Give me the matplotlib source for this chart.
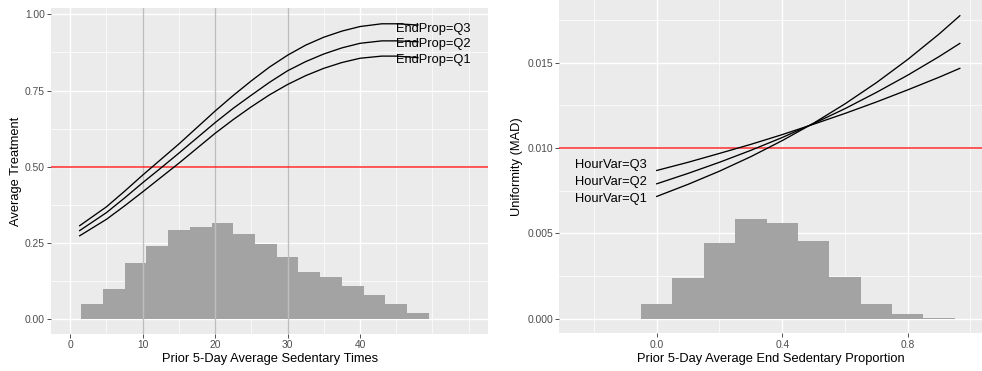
import matplotlib
matplotlib.use("Agg")
import matplotlib.pyplot as plt
import numpy as np

plt.rcParams["font.family"] = ["Liberation Sans", "DejaVu Sans"]

# left panel: histogram of prior sedentary times + fitted curves
sed_edges = [1.5, 4.5, 7.5, 10.5, 13.5, 16.5, 19.5, 22.5, 25.5, 28.5,
             31.5, 34.5, 37.5, 40.5, 43.5, 46.5, 49.5]
sed_hist = [0.050, 0.101, 0.184, 0.239, 0.294, 0.302, 0.315, 0.279,
            0.246, 0.203, 0.154, 0.140, 0.110, 0.079, 0.050, 0.022]
sed_x = [1.3, 5, 7.5, 10, 12.5, 15, 17.5, 20, 22.5, 25, 27.5, 30,
         32.5, 35, 37.5, 40, 43, 45, 48]
end_q3 = [0.307, 0.369, 0.420, 0.473, 0.524, 0.575, 0.629, 0.683, 0.734, 0.782,
          0.827, 0.866, 0.899, 0.925, 0.945, 0.960, 0.969, 0.969, 0.965]
end_q2 = [0.291, 0.350, 0.398, 0.448, 0.496, 0.545, 0.595, 0.645, 0.692, 0.735,
          0.777, 0.815, 0.845, 0.870, 0.890, 0.905, 0.913, 0.913, 0.910]
end_q1 = [0.274, 0.328, 0.372, 0.418, 0.465, 0.512, 0.561, 0.610, 0.655, 0.697,
          0.736, 0.770, 0.799, 0.823, 0.842, 0.856, 0.863, 0.863, 0.858]
end_labels = ["EndProp=Q3", "EndProp=Q2", "EndProp=Q1"]
end_label_y = [0.952, 0.902, 0.851]

# right panel: histogram of end sedentary proportion + fitted curves
prop_edges = [-0.05, 0.05, 0.15, 0.25, 0.35, 0.45, 0.55, 0.65, 0.75, 0.85, 0.95]
prop_hist = [0.00088, 0.00240, 0.00447, 0.00584, 0.00561, 0.00455,
             0.00244, 0.00090, 0.00029, 0.00006]
prop_x = [0.0, 0.1, 0.2, 0.3, 0.4, 0.5, 0.6, 0.7, 0.8, 0.9, 0.966]
hour_q3 = [0.00869, 0.00917, 0.00969, 0.01022, 0.01079, 0.01140,
           0.01203, 0.01270, 0.01341, 0.01415, 0.01467]
hour_q2 = [0.00791, 0.00852, 0.00917, 0.00987, 0.01062, 0.01144,
           0.01231, 0.01326, 0.01427, 0.01536, 0.01613]
hour_q1 = [0.00717, 0.00788, 0.00865, 0.00950, 0.01044, 0.01146,
           0.01259, 0.01383, 0.01519, 0.01668, 0.01775]
hour_labels = ["HourVar=Q3", "HourVar=Q2", "HourVar=Q1"]
hour_label_y = [0.0090, 0.0080, 0.0070]

BG = "#EBEBEB"
BAR = "#A3A3A3"
TXT = 9.3
TICK = 7.4


def style(ax):
    ax.set_facecolor(BG)
    for s in ax.spines.values():
        s.set_visible(False)
    ax.grid(True, which="major", color="white", lw=1.0)
    ax.grid(True, which="minor", color="white", lw=0.5)
    ax.set_axisbelow(True)
    ax.tick_params(which="major", length=3, width=0.6, color="#333333",
                   labelcolor="#4D4D4D", labelsize=TICK, pad=1.5)
    ax.tick_params(which="minor", length=0)


fig = plt.figure(figsize=(9.82, 3.71), dpi=100)

# ---- left
ax1 = fig.add_axes([0.0519, 0.0997, 0.4453, 0.8787])
style(ax1)
ax1.bar(sed_edges[:-1], sed_hist, width=np.diff(sed_edges), align="edge",
        color=BAR, lw=0, zorder=2)
for v in [10, 20, 30]:
    ax1.axvline(v, color="#BEBEBE", lw=1.0, zorder=3)
ax1.axhline(0.5, color="#FF2A2A", lw=1.1, zorder=3)
for ys in [end_q3, end_q2, end_q1]:
    ax1.plot(sed_x, ys, color="black", lw=0.95, zorder=4)
for lab, y in zip(end_labels, end_label_y):
    ax1.text(44.9, y, lab, ha="left", va="center", fontsize=TXT, zorder=5)
ax1.set_xlim(-2.66, 57.7)
ax1.set_ylim(-0.048, 1.0207)
ax1.set_xticks([0, 10, 20, 30, 40])
ax1.set_xticks([5, 15, 25, 35, 45, 50, 55], minor=True)
ax1.set_yticks([0, 0.25, 0.5, 0.75, 1.0])
ax1.set_yticklabels(["0.00", "0.25", "0.50", "0.75", "1.00"])
ax1.set_yticks([0.125, 0.375, 0.625, 0.875], minor=True)
ax1.set_xlabel("Prior 5-Day Average Sedentary Times", fontsize=TXT, labelpad=2)
ax1.set_ylabel("Average Treatment", fontsize=TXT, labelpad=2)

# ---- right
ax2 = fig.add_axes([0.5696, 0.1011, 0.4305, 0.899])
style(ax2)
ax2.bar(prop_edges[:-1], prop_hist, width=np.diff(prop_edges), align="edge",
        color=BAR, lw=0, zorder=2)
ax2.axhline(0.010, color="#FF2A2A", lw=1.1, zorder=3)
for ys in [hour_q3, hour_q2, hour_q1]:
    ax2.plot(prop_x, ys, color="black", lw=0.95, zorder=4)
for lab, y in zip(hour_labels, hour_label_y):
    ax2.text(-0.032, y, lab, ha="right", va="center", fontsize=TXT, zorder=5)
ax2.set_xlim(-0.3104, 1.037)
ax2.set_ylim(-0.000855, 0.018674)
ax2.set_xticks([0.0, 0.4, 0.8])
ax2.set_xticklabels(["0.0", "0.4", "0.8"])
ax2.set_xticks([-0.2, 0.2, 0.6, 1.0], minor=True)
ax2.set_yticks([0, 0.005, 0.010, 0.015])
ax2.set_yticklabels(["0.000", "0.005", "0.010", "0.015"])
ax2.set_yticks([0.0025, 0.0075, 0.0125, 0.0175], minor=True)
ax2.set_xlabel("Prior 5-Day Average End Sedentary Proportion", fontsize=TXT, labelpad=2)
ax2.set_ylabel("Uniformity (MAD)", fontsize=TXT, labelpad=3)

fig.savefig("out.png", dpi=100)
